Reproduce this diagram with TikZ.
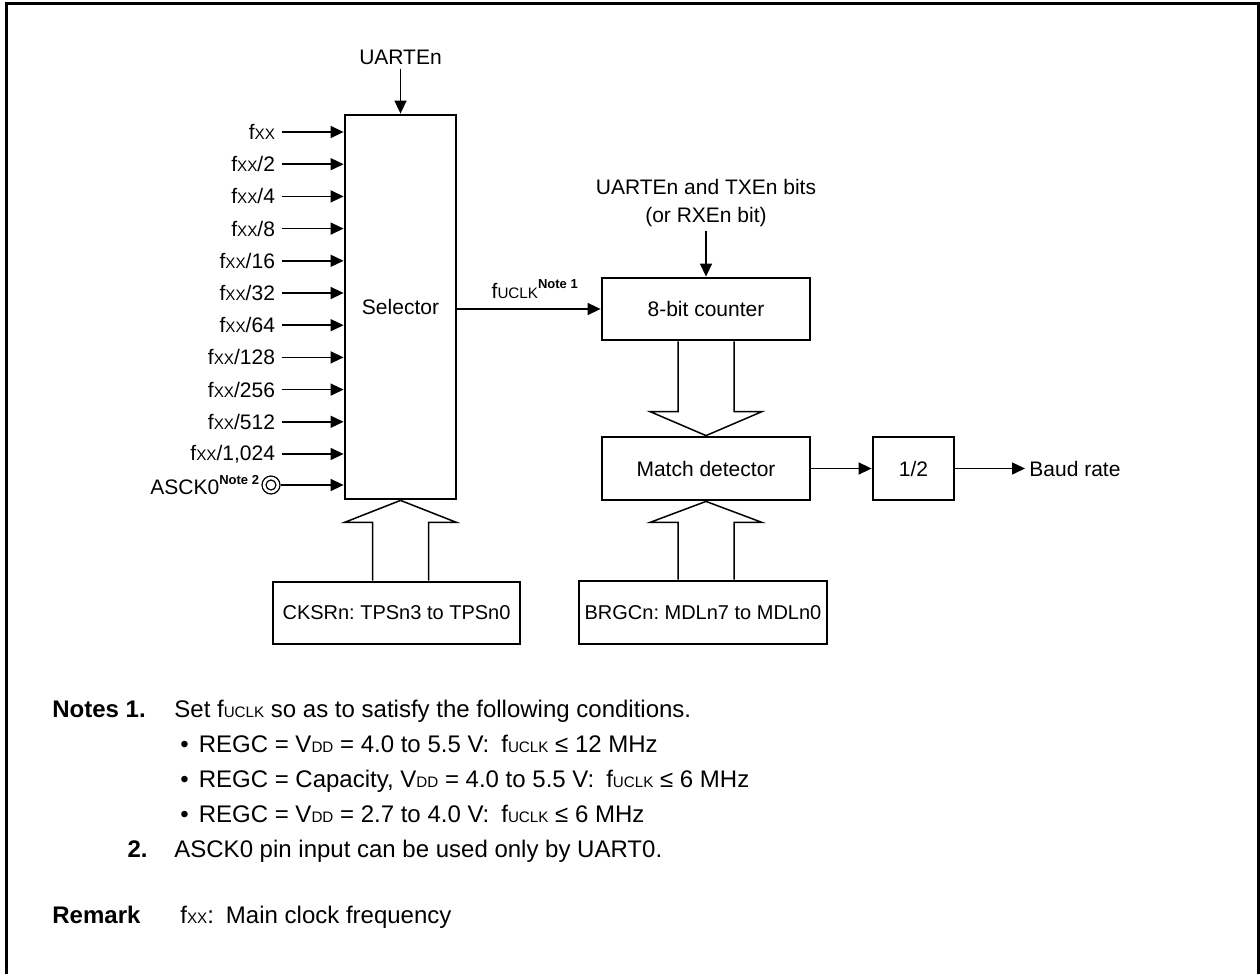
\documentclass[tikz,border=0pt]{standalone}
\usepackage{fontspec}
\setmainfont{Liberation Sans}
\usetikzlibrary{arrows.meta}

\newcommand\lowcap[1]{{\fontsize{7.6}{9}\selectfont #1}}
\newcommand\fxx{f\lowcap{XX}}
\newcommand\fuclk{f\lowcap{UCLK}}
\newcommand\vdd{V\lowcap{DD}}
\newcommand\notemark[1]{\raisebox{0.45em}{\fontsize{6.5}{8}\selectfont\bfseries #1}}

\tikzset{uartclk/.style={x=0.5pt,y=-0.5pt,font=\fontsize{10.5}{14}\selectfont}}
\tikzset{blk/.style={draw,line width=1.4pt,inner sep=0pt},
         regblk/.style={blk,font=\fontsize{10}{12}\selectfont},
         sig/.style={line width=0.75pt,-{Triangle[length=6.5pt,width=6pt]}},
         bus/.style={line width=0.75pt},
         note/.style={anchor=base west,inner sep=0pt,font=\fontsize{12}{14}\selectfont},
         notehead/.style={note,font=\fontsize{12}{14}\selectfont\bfseries}}

% hollow bus arrow: tip, source, head length
\newcommand\busarrow[3]{%
  \draw[bus] (#1) -- ++(-56,#3) -- ++(28,0) coordinate (bl) -- (bl |- #2);
  \draw[bus] (#1) -- ++(56,#3) -- ++(-28,0) coordinate (br) -- (br |- #2);}

\begin{document}
\frenchspacing
\begin{tikzpicture}[uartclk]
  \useasboundingbox (0,0) rectangle (1260,974);
  \draw[line width=1.5pt] (6,974) -- (6,4) -- (1258,4) -- (1258,974);
  % blocks
  \node[blk,minimum width=55.5pt,minimum height=192pt] (sel) at (400.5,307) {Selector};
  \node[blk,minimum width=104pt,minimum height=31pt] (cnt) at (706,309) {8-bit counter};
  \node[blk,minimum width=104pt,minimum height=31.5pt] (mat) at (706,468.5) {Match detector};
  \node[blk,minimum width=40.5pt,minimum height=31.5pt] (half) at (913.5,468.5) {1/2};
  \node[regblk,minimum width=123.5pt,minimum height=31pt] (cks) at (396.5,613) {CKSRn: TPSn3 to TPSn0};
  \node[regblk,minimum width=124pt,minimum height=31.5pt] (brg) at (703,612.5) {BRGCn: MDLn7 to MDLn0};
  % clock inputs
  \foreach \lab [count=\i from 0] in {\fxx,\fxx/2,\fxx/4,\fxx/8,\fxx/16,\fxx/32,
      \fxx/64,\fxx/128,\fxx/256,\fxx/512,{\fxx/1,024}}
  { \node[anchor=east] (in\i) at (282,{132+32.2*\i}) {\lab};
    \draw[sig] (in\i) -- (in\i -| sel.west); }
  \node[draw,circle,line width=0.6pt,minimum size=9pt,inner sep=0pt] (pin) at (271,485) {};
  \draw[line width=0.6pt] (pin.center) circle[radius=2.5pt];
  \node[anchor=east,inner sep=1pt] (asck) at (pin.west) {ASCK0\notemark{Note 2}};
  \draw[sig] (pin) -- (pin -| sel.west);
  % control and data paths
  \node[inner sep=2pt] (uen) at (400.5,57) {UARTEn};
  \draw[sig] (uen) -- (uen |- sel.north);
  \node[align=center,inner sep=2pt] (en) at (706,203) {UARTEn and TXEn bits\\(or RXEn bit)};
  \draw[sig] (en) -- (en |- cnt.north);
  \draw[sig] (sel.east |- cnt) -- node[above,pos=0.54,inner sep=5pt] (fu) {\fuclk\notemark{Note 1}} (cnt.west);
  \draw[sig] (mat) -- (half);
  \node[anchor=west,inner sep=2pt] (baud) at (1025,468.5) {Baud rate};
  \draw[sig] (half) -- (baud);
  \busarrow{sel.south}{cks.north}{22}
  \busarrow{mat.north}{cnt.south}{-24}
  \busarrow{mat.south}{brg.north}{21}
  % notes
  \node[notehead] (n1) at (52,717) {Notes 1.};
  \node[note] (t1) at (174,717) {Set \fuclk{} so as to satisfy the following conditions.};
  \node[note] (b1) at (180,752) {\textbullet\hspace{5pt}REGC = \vdd{} = 4.0 to 5.5 V:\enspace\fuclk{} ≤ 12 MHz};
  \node[note] (b2) at (180,787) {\textbullet\hspace{5pt}REGC = Capacity, \vdd{} = 4.0 to 5.5 V:\enspace\fuclk{} ≤ 6 MHz};
  \node[note] (b3) at (180,822) {\textbullet\hspace{5pt}REGC = \vdd{} = 2.7 to 4.0 V:\enspace\fuclk{} ≤ 6 MHz};
  \node[notehead,anchor=base east] (n2) at (148,857) {2.};
  \node[note] (t2) at (174,857) {ASCK0 pin input can be used only by UART0.};
  \node[notehead] (rm) at (52,923) {Remark};
  \node[note] (t3) at (180,923) {\fxx:\enspace Main clock frequency};
\end{tikzpicture}
\end{document}
